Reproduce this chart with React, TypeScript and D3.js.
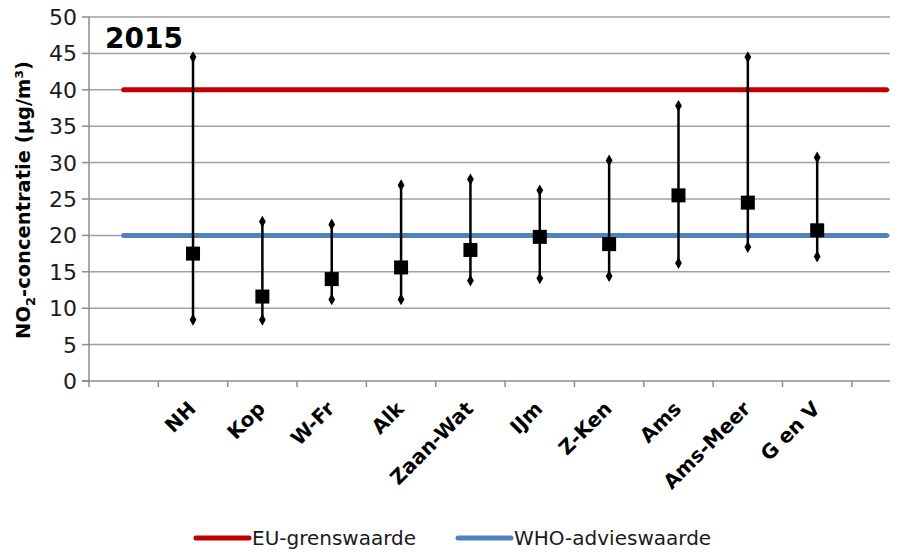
import React, { useEffect, useRef } from 'react';
import * as d3 from 'd3';

const categories = ['NH', 'Kop', 'W-Fr', 'Alk', 'Zaan-Wat', 'IJm', 'Z-Ken', 'Ams', 'Ams-Meer', 'G en V'];
const meanValues = [17.5, 11.6, 14.0, 15.6, 18.0, 19.8, 18.8, 25.5, 24.5, 20.7];
const maxValues = [44.5, 21.9, 21.5, 26.9, 27.7, 26.2, 30.3, 37.8, 44.5, 30.7];
const minValues = [8.4, 8.4, 11.2, 11.2, 13.8, 14.1, 14.4, 16.2, 18.4, 17.1];
const euLimit = 40;
const whoLimit = 20;
const yTicks = [0, 5, 10, 15, 20, 25, 30, 35, 40, 45, 50];
const slotTicks = [0, 1, 2, 3, 4, 5, 6, 7, 8, 9, 10, 11];

const App = () => {
  const ref = useRef<SVGSVGElement>(null);

  useEffect(() => {
    const svg = d3.select(ref.current);
    svg.selectAll('*').remove();
    const font = '"DejaVu Sans", Verdana, sans-serif';

    // slot 0 and slot 11 are empty, the stations sit in slots 1..10
    const x = d3.scaleLinear().domain([0, 11.55]).range([89, 890]);
    const y = d3.scaleLinear().domain([0, 50]).range([381, 17]);
    const cx = (i: number) => x(i + 1.5);

    // gridlines
    svg.append('g')
      .selectAll('line')
      .data(yTicks.filter((d) => d > 0))
      .enter()
      .append('line')
      .attr('x1', 89)
      .attr('x2', 890)
      .attr('y1', (d) => y(d))
      .attr('y2', (d) => y(d))
      .attr('stroke', '#a0a0a0')
      .attr('stroke-width', 1.5);

    // axes
    const axes = svg.append('g').attr('stroke', '#8c8c8c').attr('stroke-width', 1.5);
    axes.append('line').attr('x1', 89).attr('x2', 89).attr('y1', y(50)).attr('y2', y(0));
    axes.append('line').attr('x1', 82).attr('x2', 890).attr('y1', y(0)).attr('y2', y(0));
    axes.selectAll('.yt').data(yTicks).enter().append('line')
      .attr('x1', 82).attr('x2', 89).attr('y1', (d) => y(d)).attr('y2', (d) => y(d));
    axes.selectAll('.xt').data(slotTicks).enter().append('line')
      .attr('x1', (d) => x(d)).attr('x2', (d) => x(d)).attr('y1', y(0)).attr('y2', y(0) + 6);

    svg.append('g')
      .selectAll('text')
      .data(yTicks)
      .enter()
      .append('text')
      .attr('x', 77)
      .attr('y', (d) => y(d))
      .attr('dy', '0.36em')
      .attr('text-anchor', 'end')
      .attr('font-family', font)
      .attr('font-size', 22)
      .attr('fill', '#1a1a1a')
      .text((d) => d);

    // limit lines
    const limits = [
      { v: euLimit, c: '#c00000' },
      { v: whoLimit, c: '#4f81bd' },
    ];
    svg.append('g')
      .selectAll('line')
      .data(limits)
      .enter()
      .append('line')
      .attr('x1', x(0.5))
      .attr('x2', x(11.5))
      .attr('y1', (d) => y(d.v))
      .attr('y2', (d) => y(d.v))
      .attr('stroke', (d) => d.c)
      .attr('stroke-width', 5)
      .attr('stroke-linecap', 'round');

    // ranges
    const bars = svg.append('g');
    bars.selectAll('line')
      .data(categories)
      .enter()
      .append('line')
      .attr('x1', (_d, i) => cx(i))
      .attr('x2', (_d, i) => cx(i))
      .attr('y1', (_d, i) => y(maxValues[i]))
      .attr('y2', (_d, i) => y(minValues[i]))
      .attr('stroke', '#000')
      .attr('stroke-width', 2.5);

    const diamond = d3.symbol().type(d3.symbolDiamond).size(40);
    const caps = categories.flatMap((_d, i) => [
      { i, v: maxValues[i] },
      { i, v: minValues[i] },
    ]);
    bars.selectAll('.cap')
      .data(caps)
      .enter()
      .append('path')
      .attr('d', diamond)
      .attr('transform', (d) => `translate(${cx(d.i)},${y(d.v)})`)
      .attr('fill', '#000');

    bars.selectAll('rect')
      .data(meanValues)
      .enter()
      .append('rect')
      .attr('x', (_d, i) => cx(i) - 7)
      .attr('y', (d) => y(d) - 7)
      .attr('width', 14)
      .attr('height', 14)
      .attr('fill', '#000');

    // category labels
    svg.append('g')
      .selectAll('text')
      .data(categories)
      .enter()
      .append('text')
      .attr('transform', (_d, i) => `translate(${cx(i) + 4},${410}) rotate(-45)`)
      .attr('text-anchor', 'end')
      .attr('font-family', font)
      .attr('font-size', 20)
      .attr('font-weight', 'bold')
      .attr('fill', '#000')
      .text((d) => d);

    // titles
    svg.append('text')
      .attr('x', 105)
      .attr('y', 48)
      .attr('font-family', font)
      .attr('font-size', 28)
      .attr('font-weight', 'bold')
      .text('2015');

    const yt = svg.append('text')
      .attr('transform', 'translate(30,200) rotate(-90)')
      .attr('text-anchor', 'middle')
      .attr('font-family', font)
      .attr('font-size', 19.5)
      .attr('font-weight', 'bold');
    yt.append('tspan').text('NO');
    yt.append('tspan').attr('font-size', 13).attr('dy', 5).text('2');
    yt.append('tspan').attr('dy', -5).text('-concentratie (µg/m³)');

    // legend
    const legend = [
      { label: 'EU-grenswaarde', c: '#c00000', x: 196 },
      { label: 'WHO-advieswaarde', c: '#4f81bd', x: 458 },
    ];
    const lg = svg.append('g').selectAll('g').data(legend).enter().append('g');
    lg.append('line')
      .attr('x1', (d) => d.x)
      .attr('x2', (d) => d.x + 53)
      .attr('y1', 538)
      .attr('y2', 538)
      .attr('stroke', (d) => d.c)
      .attr('stroke-width', 5)
      .attr('stroke-linecap', 'round');
    lg.append('text')
      .attr('x', (d) => d.x + 56)
      .attr('y', 538)
      .attr('dy', '0.36em')
      .attr('font-family', font)
      .attr('font-size', 20)
      .attr('fill', '#1a1a1a')
      .text((d) => d.label);
  }, []);

  return (
    <svg
      ref={ref}
      width={914}
      height={552}
      style={{ position: 'absolute', left: 0, top: 0, background: '#fff' }}
    />
  );
};

export default App;
